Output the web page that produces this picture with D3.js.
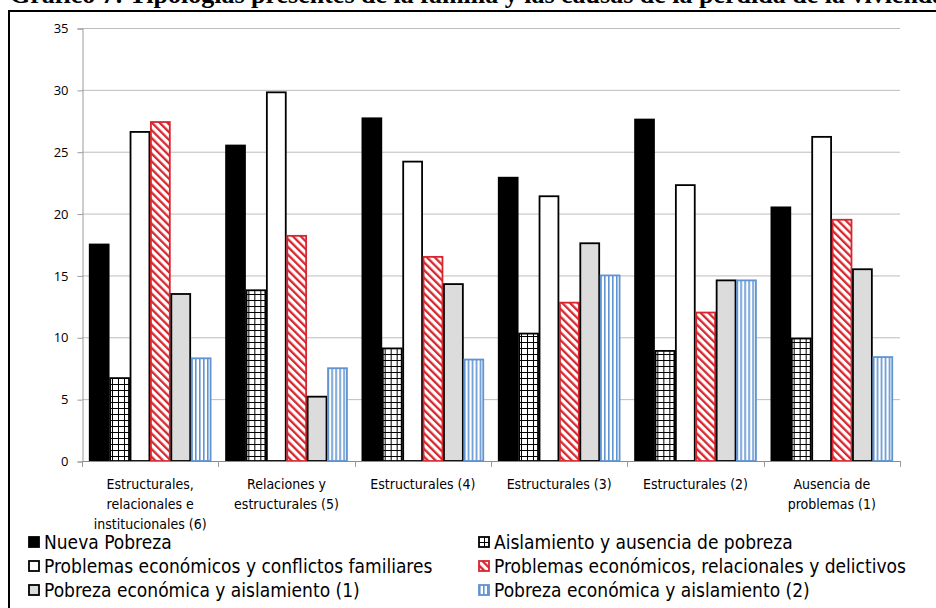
<!DOCTYPE html>
<html>
<head>
<meta charset="utf-8">
<script src="https://cdn.jsdelivr.net/npm/d3@7"></script>
<style>
  body { margin: 0; background: #fff; }
  svg { display: block; }
  text { font-family: "Liberation Sans Narrow", "DejaVu Sans Condensed", "Open Sans", sans-serif; }
</style>
</head>
<body>
<div id="chart"></div>
<script>
const categories = [
    "Estructurales,\nrelacionales e\ninstitucionales (6)",
    "Relaciones y\nestructurales (5)",
    "Estructurales (4)",
    "Estructurales (3)",
    "Estructurales (2)",
    "Ausencia de\nproblemas (1)"
];
const seriesNames = [
    "Nueva Pobreza",
    "Aislamiento y ausencia de pobreza",
    "Problemas económicos y conflictos familiares",
    "Problemas económicos, relacionales y delictivos",
    "Pobreza económica y aislamiento (1)",
    "Pobreza  económica y aislamiento (2)"
];
const nuevaPobreza = [17.5, 25.5, 27.7, 22.9, 27.6, 20.5];
const aislamiento = [6.7, 13.8, 9.1, 10.3, 8.9, 9.9];
const conflictosFamiliares = [26.6, 29.8, 24.2, 21.4, 22.3, 26.2];
const delictivos = [27.4, 18.2, 16.5, 12.8, 12.0, 19.5];
const pobrezaAislamiento1 = [13.5, 5.2, 14.3, 17.6, 14.6, 15.5];
const pobrezaAislamiento2 = [8.3, 7.5, 8.2, 15.0, 14.6, 8.4];
const yTicks = [0, 5, 10, 15, 20, 25, 30, 35];
const titleText = "Gráfico 7: Tipologías presentes de la familia y las causas de la pérdida de la vivienda";

const values = [nuevaPobreza, aislamiento, conflictosFamiliares, delictivos, pobrezaAislamiento1, pobrezaAislamiento2];

const width = 936, height = 608;
const plot = { left: 82, right: 900, top: 28, bottom: 461 };

const svg = d3.select("#chart").append("svg")
    .attr("width", width)
    .attr("height", height);

// patterns for the hatched series
const defs = svg.append("defs");
const grid = defs.append("pattern").attr("id", "p-grid")
    .attr("patternUnits", "userSpaceOnUse").attr("width", 6).attr("height", 6);
grid.append("rect").attr("width", 6).attr("height", 6).attr("fill", "#fff");
grid.append("path").attr("d", "M0,0.5H6M0.5,0V6").attr("stroke", "#000").attr("stroke-width", 1);

const diag = defs.append("pattern").attr("id", "p-diag")
    .attr("patternUnits", "userSpaceOnUse").attr("width", 5.5).attr("height", 5.5)
    .attr("patternTransform", "rotate(-45)");
diag.append("rect").attr("width", 5.5).attr("height", 5.5).attr("fill", "#fff");
diag.append("rect").attr("width", 2.3).attr("height", 5.5).attr("fill", "#d7262e");

const vert = defs.append("pattern").attr("id", "p-vert")
    .attr("patternUnits", "userSpaceOnUse").attr("width", 4).attr("height", 4);
vert.append("rect").attr("width", 4).attr("height", 4).attr("fill", "#fff");
vert.append("rect").attr("x", 1).attr("width", 1.6).attr("height", 4).attr("fill", "#5f93d2");

const styles = [
    { fill: "#000", stroke: "#000" },
    { fill: "url(#p-grid)", stroke: "#000" },
    { fill: "#fff", stroke: "#000" },
    { fill: "url(#p-diag)", stroke: "#d7262e" },
    { fill: "#dcdcdc", stroke: "#000" },
    { fill: "url(#p-vert)", stroke: "#5f93d2" }
];

// title, cut by the top edge like in the source, and the outer frame
svg.append("text")
    .attr("x", 10).attr("y", 3)
    .style("font-family", "'Liberation Serif', serif")
    .style("font-weight", "bold")
    .style("font-size", "26px")
    .text(titleText);

svg.append("path")
    .attr("d", `M9,${height}V11H${width}`)
    .attr("fill", "none").attr("stroke", "#000").attr("stroke-width", 2);

const y = d3.scaleLinear().domain([0, 35]).range([plot.bottom, plot.top]);
const x0 = d3.scaleBand().domain(d3.range(categories.length)).range([plot.left, plot.right]);
const x1 = d3.scaleBand().domain(d3.range(seriesNames.length)).range([7, x0.bandwidth() - 7]);

// gridlines
svg.append("g")
    .selectAll("line")
    .data(yTicks.slice(1))
    .join("line")
    .attr("x1", plot.left).attr("x2", plot.right)
    .attr("y1", d => y(d) + 0.5).attr("y2", d => y(d) + 0.5)
    .attr("stroke", "#bdbdbd");

// y axis
const yAxis = svg.append("g")
    .attr("transform", `translate(${plot.left + 0.5},0.5)`)
    .call(d3.axisLeft(y).tickValues(yTicks).tickSize(5).tickPadding(9));
yAxis.select(".domain").attr("stroke", "#9a9a9a");
yAxis.selectAll(".tick line").attr("stroke", "#9a9a9a");
yAxis.selectAll(".tick text")
    .style("font-family", "'Open Sans', sans-serif")
    .style("font-size", "13px").attr("fill", "#000");

// bars
const groups = svg.append("g")
    .selectAll("g")
    .data(categories)
    .join("g")
    .attr("transform", (d, i) => `translate(${x0(i)},0)`);

groups.selectAll("rect")
    .data((d, i) => values.map((s, k) => ({ k, v: s[i] })))
    .join("rect")
    .attr("x", d => x1(d.k) + 0.75)
    .attr("width", x1.bandwidth() - 1.5)
    .attr("y", d => y(d.v))
    .attr("height", d => y(0) - y(d.v))
    .attr("fill", d => styles[d.k].fill)
    .attr("stroke", d => styles[d.k].stroke)
    .attr("stroke-width", 1.8);

// x axis
svg.append("line")
    .attr("x1", plot.left).attr("x2", plot.right)
    .attr("y1", plot.bottom + 0.5).attr("y2", plot.bottom + 0.5)
    .attr("stroke", "#8a8a8a").attr("stroke-width", 1.2);
svg.append("g")
    .selectAll("line")
    .data(d3.range(categories.length + 1))
    .join("line")
    .attr("x1", d => Math.round(plot.left + d * x0.step()) + 0.5)
    .attr("x2", d => Math.round(plot.left + d * x0.step()) + 0.5)
    .attr("y1", plot.bottom).attr("y2", plot.bottom + 6)
    .attr("stroke", "#9a9a9a");

svg.append("g")
    .selectAll("text")
    .data(categories)
    .join("text")
    .attr("text-anchor", "middle")
    .style("font-size", "14px")
    .attr("transform", (d, i) => `translate(${x0(i) + x0.bandwidth() / 2},489)`)
    .selectAll("tspan")
    .data(d => d.split("\n"))
    .join("tspan")
    .attr("x", 0)
    .attr("y", (d, i) => i * 20)
    .text(d => d);

// legend
const legend = svg.append("g")
    .selectAll("g")
    .data(seriesNames)
    .join("g")
    .attr("transform", (d, i) => `translate(${i % 2 ? 478 : 28},${542 + Math.floor(i / 2) * 24})`);

legend.append("rect")
    .attr("x", 1).attr("y", -5)
    .attr("width", 10).attr("height", 10)
    .attr("fill", (d, i) => styles[i].fill)
    .attr("stroke", (d, i) => styles[i].stroke)
    .attr("stroke-width", 1.8);

legend.append("text")
    .attr("x", 16).attr("y", 6.5)
    .style("font-size", "19px")
    .text(d => d);
</script>
</body>
</html>
